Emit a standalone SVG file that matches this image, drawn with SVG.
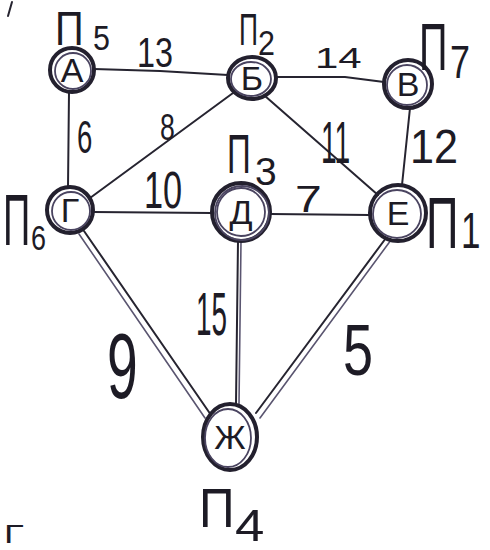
<svg xmlns="http://www.w3.org/2000/svg" width="490" height="550" viewBox="0 0 490 550">
<style>
.bg{fill:#ffffff}
.edge{stroke:#262430;stroke-width:2;fill:none;stroke-linecap:round}
.edge2{stroke:#5a5570;stroke-width:1.6;fill:none;stroke-linecap:round}
.ring{fill:none;stroke:#23202e;stroke-width:4}
.ring2{fill:none;stroke:#4a4460;stroke-width:1.8}
.t{font-family:"Liberation Sans","DejaVu Sans",sans-serif;fill:#1d1b25}
.let{font-family:"Liberation Sans","DejaVu Sans",sans-serif;fill:#1d1b25;font-size:34px;text-anchor:middle}
</style>
<rect class="bg" width="490" height="550"/>
<g id="connectors">
  <path id="e-A-B" class="edge" d="M94,69 L160,71 L228,75"/>
  <path id="e-B-V" class="edge" d="M276,77 L345,77 L384,82"/>
  <path id="e-A-G" class="edge" d="M69,92 L68,187"/>
  <path id="e-G-B" class="edge" d="M90,198 L233,93"/>
  <path id="e-B-E" class="edge" d="M265,96 L378,195"/>
  <path id="e-V-E" class="edge" d="M410,108 L402,185"/>
  <path id="e-G-D" class="edge" d="M93,212 L212,213"/>
  <path id="e-D-E" class="edge" d="M270,214 L370,215"/>
  <path id="e-D-Zh" class="edge" d="M238,241 L236,404"/>
  <path class="edge2" d="M241,241 L239,404"/>
  <path id="e-G-Zh" class="edge" d="M84,231 L211,415"/>
  <path class="edge2" d="M79,234 L205,418"/>
  <path id="e-E-Zh" class="edge" d="M386,238 L256,413"/>
  <path class="edge2" d="M391,240 L260,418"/>
  <g class="t">
    <text transform="translate(137,67) scale(0.77,1)" font-size="42">13</text>
    <text transform="translate(315,68) scale(1.4,1)" font-size="30">14</text>
    <text transform="translate(77,153) scale(0.6,1)" font-size="46">6</text>
    <text transform="translate(160,140) scale(0.72,1)" font-size="37">8</text>
    <text transform="translate(321,163) scale(0.47,1)" font-size="60">11</text>
    <text transform="translate(410,163) scale(0.9,1)" font-size="48">12</text>
    <text transform="translate(144,208) scale(0.66,1)" font-size="52">10</text>
    <text transform="translate(295,212) scale(1.3,1)" font-size="37">7</text>
    <text transform="translate(196,335) scale(0.45,1)" font-size="62">15</text>
    <text transform="translate(107,398) scale(0.6,1)" font-size="92">9</text>
    <text transform="translate(343,375) scale(0.75,1)" font-size="72">5</text>
  </g>
</g>
<g id="node-A">
  <circle class="ring" cx="72" cy="70" r="22"/>
  <circle class="ring2" cx="73" cy="71" r="18"/>
  <text class="let" x="72" y="82">А</text>
  <g class="t">
    <text transform="translate(55,45) scale(0.83,1)" font-size="48">П</text>
    <text transform="translate(93,50) scale(0.87,1)" font-size="35">5</text>
  </g>
</g>
<g id="node-B">
  <ellipse class="ring" cx="252" cy="78" rx="24" ry="21"/>
  <ellipse class="ring2" cx="251" cy="79" rx="20" ry="17"/>
  <text class="let" x="252" y="90">Б</text>
  <g class="t">
    <text transform="translate(239,45) scale(0.6,1)" font-size="44">П</text>
    <text transform="translate(258,55) scale(0.87,1)" font-size="35">2</text>
  </g>
</g>
<g id="node-V">
  <circle class="ring" cx="408" cy="84" r="24"/>
  <circle class="ring2" cx="407" cy="85" r="20"/>
  <text class="let" x="408" y="96">В</text>
  <g class="t">
    <text transform="translate(419,70) scale(0.6,1)" font-size="66">П</text>
    <text transform="translate(450,78) scale(0.78,1)" font-size="46">7</text>
  </g>
</g>
<g id="node-G">
  <circle class="ring" cx="70" cy="210" r="23"/>
  <circle class="ring2" cx="71" cy="211" r="19"/>
  <text class="let" x="70" y="222">Г</text>
  <g class="t">
    <text transform="translate(3,245) scale(0.52,1)" font-size="73">П</text>
    <text transform="translate(31,250) scale(0.77,1)" font-size="35">6</text>
  </g>
</g>
<g id="node-D">
  <circle class="ring" cx="241" cy="212" r="29"/>
  <circle class="ring2" cx="241" cy="212" r="24"/>
  <circle class="ring2" cx="242" cy="213" r="27"/>
  <text class="let" x="241" y="224">Д</text>
  <g class="t">
    <text transform="translate(227,173) scale(0.6,1)" font-size="55">П</text>
    <text transform="translate(255,185)" font-size="39">3</text>
  </g>
</g>
<g id="node-E">
  <circle class="ring" cx="398" cy="213" r="28"/>
  <circle class="ring2" cx="397" cy="214" r="24"/>
  <text class="let" x="398" y="225">Е</text>
  <g class="t">
    <text transform="translate(426,248) scale(0.62,1)" font-size="73">П</text>
    <text transform="translate(461,248) scale(0.7,1)" font-size="50">1</text>
  </g>
</g>
<g id="node-Zh">
  <ellipse class="ring" cx="230" cy="437" rx="27" ry="33"/>
  <ellipse class="ring2" cx="228" cy="438" rx="23" ry="29"/>
  <text class="let" x="230" y="449">Ж</text>
  <g class="t">
    <text transform="translate(199,527) scale(0.9,1)" font-size="55">П</text>
    <text transform="translate(235,541) scale(1.2,1)" font-size="44">4</text>
  </g>
</g>
<g id="marks">
  <path class="edge" d="M8,16 L12,2"/>
  <text class="t" transform="translate(4,543) scale(1.4,1)" font-size="26">Г</text>
</g>
</svg>
